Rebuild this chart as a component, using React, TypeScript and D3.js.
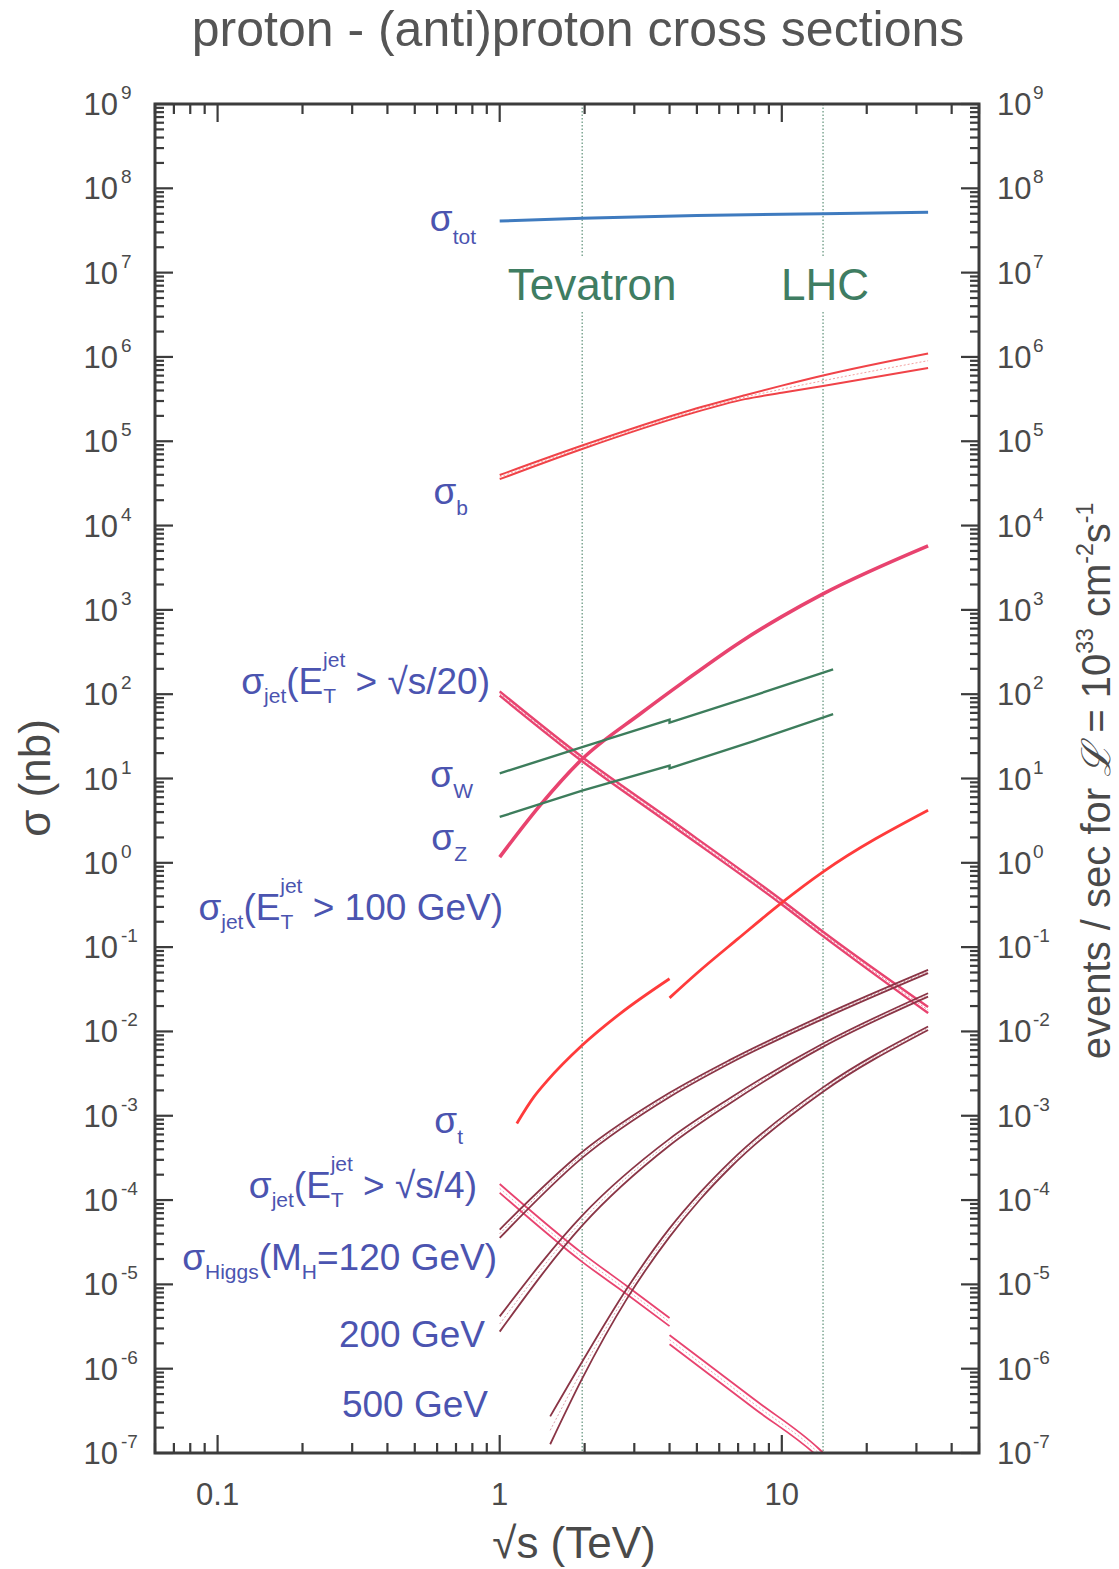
import React from 'react';
import * as d3 from 'd3';

const W = 1119;
const H = 1569;
const left = 155, right = 979, top = 104, bottom = 1453;

const font = '"Liberation Sans", Arial, Helvetica, sans-serif';

// axes
const xDomain = [0.06, 50];
const yDomain = [1e-7, 1e9];
const xTickValues = [0.1, 1, 10];
const xTickLabels = ['0.1', '1', '10'];
const yExponents = d3.range(-7, 10);

// colliders (vertical dotted lines)
const colliderNames = ['Tevatron', 'LHC'];
const colliderEnergy = [1.96, 14];

// sigma_tot
const totX = [1, 1.96, 5, 14, 33];
const totY = [4.1e7, 4.4e7, 4.75e7, 5.0e7, 5.2e7];

// sigma_b (band)
const bX = [1, 1.96, 4.55, 7.4, 10, 14, 33];
const bHi = [3.98e4, 8.9e4, 2.24e5, 3.51e5, 4.57e5, 6.03e5, 1.1e6];
const bLo = [3.55e4, 8.1e4, 2.04e5, 3.16e5, 3.76e5, 4.52e5, 7.41e5];

// sigma_jet(ET > sqrt(s)/20)
const jet20X = [1, 1.96, 4, 10, 14, 33];
const jet20Hi = [108, 18, 3.3, 0.36, 0.152, 0.0195];
const jet20Lo = [96, 16, 2.9, 0.32, 0.135, 0.0165];

// sigma_jet(ET > 100 GeV)
const jet100X = [1, 1.39, 1.96, 3.16, 4.5, 7.14, 10, 14, 33];
const jet100Y = [1.17, 4.8, 17, 59, 141, 417, 832, 1550, 5750];

// sigma_W, sigma_Z (ppbar up to 4 TeV, pp above)
const wzX = [1, 1.96, 4, 4, 8, 15.2];
const wY = [11.5, 23.5, 50, 46, 97, 197];
const zY = [3.5, 7.2, 14.2, 13.2, 28, 58];

// sigma_t
const topPbarX = [1.15, 1.32, 1.47, 1.96, 2.68, 4.0];
const topPbarY = [8.1e-4, 1.66e-3, 2.57e-3, 6.84e-3, 0.0164, 0.0422];
const topPpX = [4.0, 5, 7, 9.93, 14, 33];
const topPpY = [0.025, 0.049, 0.126, 0.33, 0.78, 4.2];

// sigma_jet(ET > sqrt(s)/4)
const jet4PbarX = [1, 1.96, 2.83, 4.0];
const jet4PbarHi = [1.55e-4, 2.35e-5, 9.5e-6, 4.0e-6];
const jet4PbarLo = [1.22e-4, 1.85e-5, 7.6e-6, 3.2e-6];
const jet4PpX = [4.0, 8, 13.5, 15];
const jet4PpHi = [2.5e-6, 4.3e-7, 1.13e-7, 8.0e-8];
const jet4PpLo = [1.95e-6, 3.35e-7, 0.89e-7, 6.3e-8];

// sigma_Higgs
const h120X = [1, 1.96, 4, 6.5, 14, 33];
const h120Hi = [4.47e-5, 3.71e-4, 1.87e-3, 4.54e-3, 0.0155, 0.0538];
const h120Lo = [3.55e-5, 3.16e-4, 1.67e-3, 4.14e-3, 0.0141, 0.0491];
const h200X = [1, 1.96, 4, 6.5, 14, 33];
const h200Hi = [4.17e-6, 6.55e-5, 5.32e-4, 1.59e-3, 7.19e-3, 0.0284];
const h200Lo = [2.75e-6, 4.97e-5, 4.43e-4, 1.38e-3, 6.56e-3, 0.0259];
const h500X = [1.51, 1.96, 2.83, 4, 5.15, 6.58, 14, 33];
const h500Hi = [2.72e-7, 1.21e-6, 8.99e-6, 4.61e-5, 1.24e-4, 2.88e-4, 2.17e-3, 0.01143];
const h500Lo = [1.27e-7, 7.62e-7, 6.82e-6, 3.66e-5, 1.03e-4, 2.45e-4, 1.93e-3, 0.01042];

const x = d3.scaleLog().domain(xDomain).range([left, right]);
const y = d3.scaleLog().domain(yDomain).range([bottom, top]);

type P = [number, number];
const pts = (xs: number[], ys: number[]): P[] => xs.map((v, i) => [v, ys[i]] as P);
const smooth = d3.line<P>().x(d => x(d[0])).y(d => y(d[1])).curve(d3.curveMonotoneX);
const straight = d3.line<P>().x(d => x(d[0])).y(d => y(d[1]));

function Band(props: { xs: number[]; lo: number[]; hi: number[]; color: string; mid: string; width?: number }) {
  const { xs, lo, hi, color, mid } = props;
  const w = props.width || 1.8;
  const c = xs.map((v, i) => Math.sqrt(lo[i] * hi[i]));
  return (
    <g fill="none">
      <path d={smooth(pts(xs, hi)) || ''} stroke={color} strokeWidth={w} />
      <path d={smooth(pts(xs, lo)) || ''} stroke={color} strokeWidth={w} />
      <path d={smooth(pts(xs, c)) || ''} stroke={mid} strokeWidth={1} strokeDasharray="2 2" />
    </g>
  );
}

const isMajor = (v: number) => Math.abs(Math.log10(v) - Math.round(Math.log10(v))) < 1e-6;

const yTicks = d3.range(-7, 9).flatMap(e => d3.range(1, 10).map(k => k * Math.pow(10, e))).concat([1e9]);
const xTicks = x.ticks();

export default function App() {
  const axisColor = '#3c3c3c';
  const textColor = '#4a4a4a';
  const lab = '#4b54b0';
  const sub = 21;

  return (
    <svg width={W} height={H} style={{ position: 'absolute', left: 0, top: 0, display: 'block', background: '#fff' }}
      fontFamily={font}>
      <defs>
        <clipPath id="plot">
          <rect x={left} y={top} width={right - left} height={bottom - top} />
        </clipPath>
      </defs>

      <text x={578} y={46} textAnchor="middle" fontSize={50} fill="#555">proton - (anti)proton cross sections</text>

      {/* collider lines */}
      {colliderEnergy.map((e, i) => (
        <g key={colliderNames[i]} stroke="#3d7a5c" strokeWidth={1} strokeDasharray="1.5 2">
          <line x1={x(e)} x2={x(e)} y1={top} y2={258} />
          <line x1={x(e)} x2={x(e)} y1={312} y2={bottom} />
        </g>
      ))}
      {colliderNames.map((n, i) => (
        <text key={n} x={x(colliderEnergy[i]) + (i === 0 ? 10 : 2)} y={300} textAnchor="middle" fontSize={44} fill="#3f7d62">{n}</text>
      ))}

      {/* curves */}
      <g clipPath="url(#plot)" fill="none" strokeLinecap="butt">
        <path d={smooth(pts(totX, totY)) || ''} stroke="#3f7bbf" strokeWidth={3} />
        <Band xs={bX} lo={bLo} hi={bHi} color="#f04348" mid="#f4a0a0" width={2} />
        <Band xs={jet20X} lo={jet20Lo} hi={jet20Hi} color="#e8436f" mid="#f07898" width={2.4} />
        <path d={smooth(pts(jet100X, jet100Y)) || ''} stroke="#e8436f" strokeWidth={3.6} />
        <path d={straight(pts(wzX, wY)) || ''} stroke="#3d7d5c" strokeWidth={2.4} />
        <path d={straight(pts(wzX, zY)) || ''} stroke="#3d7d5c" strokeWidth={2.4} />
        <path d={smooth(pts(topPbarX, topPbarY)) || ''} stroke="#ff3b3b" strokeWidth={2.8} />
        <path d={smooth(pts(topPpX, topPpY)) || ''} stroke="#ff3b3b" strokeWidth={2.8} />
        <Band xs={jet4PbarX} lo={jet4PbarLo} hi={jet4PbarHi} color="#e8436f" mid="#f3a0ba" width={1.8} />
        <Band xs={jet4PpX} lo={jet4PpLo} hi={jet4PpHi} color="#e8436f" mid="#f3a0ba" width={1.8} />
        <Band xs={h120X} lo={h120Lo} hi={h120Hi} color="#8a3546" mid="#c98a96" width={1.8} />
        <Band xs={h200X} lo={h200Lo} hi={h200Hi} color="#8a3546" mid="#d9a3ad" width={1.8} />
        <Band xs={h500X} lo={h500Lo} hi={h500Hi} color="#8a3546" mid="#d9a3ad" width={1.8} />
      </g>

      {/* frame */}
      <rect x={left} y={top} width={right - left} height={bottom - top} fill="none" stroke={axisColor} strokeWidth={3} />

      {/* ticks */}
      <g stroke={axisColor} strokeWidth={2.2}>
        {yTicks.map((v, i) => {
          const len = isMajor(v) ? 18 : 9;
          const py = y(v);
          return (
            <g key={'y' + i}>
              <line x1={left} x2={left + len} y1={py} y2={py} />
              <line x1={right} x2={right - len} y1={py} y2={py} />
            </g>
          );
        })}
        {xTicks.map((v, i) => {
          const len = isMajor(v) ? 18 : 10;
          const px = x(v);
          return (
            <g key={'x' + i}>
              <line x1={px} x2={px} y1={bottom} y2={bottom - len} />
              <line x1={px} x2={px} y1={top} y2={top + len} />
            </g>
          );
        })}
      </g>

      {/* tick labels */}
      <g fill={textColor}>
        {yExponents.map(e => (
          <g key={'yl' + e}>
            <text x={118} y={y(Math.pow(10, e)) + 11} textAnchor="end" fontSize={31}>10</text>
            <text x={121} y={y(Math.pow(10, e)) - 5} fontSize={19}>{e < 0 ? '-' + (-e) : String(e)}</text>
            <text x={997} y={y(Math.pow(10, e)) + 11} fontSize={31}>10</text>
            <text x={1033} y={y(Math.pow(10, e)) - 5} fontSize={19}>{e < 0 ? '-' + (-e) : String(e)}</text>
          </g>
        ))}
        {xTickValues.map((v, i) => (
          <text key={'xl' + i} x={x(v)} y={1505} textAnchor="middle" fontSize={31}>{xTickLabels[i]}</text>
        ))}
      </g>

      {/* axis titles */}
      <text x={574} y={1558} textAnchor="middle" fontSize={44} fill={textColor}>√s (TeV)</text>
      <text transform="translate(50,778) rotate(-90)" textAnchor="middle" fontSize={44} fill={textColor}>σ (nb)</text>
      <text transform="translate(1110,781) rotate(-90)" textAnchor="middle" fontSize={40} fill={textColor}>
        events / sec for <tspan fontStyle="italic">ℒ</tspan> = 10<tspan dy={-17} fontSize={23}>33</tspan>
        <tspan dy={17}> cm</tspan><tspan dy={-17} fontSize={23}>-2</tspan><tspan dy={17}>s</tspan>
        <tspan dy={-17} fontSize={23}>-1</tspan>
      </text>

      {/* curve labels */}
      <g fill={lab} fontSize={37}>
        <text x={476} y={231} textAnchor="end">σ<tspan dy={13} fontSize={sub}>tot</tspan></text>
        <text x={468} y={504} textAnchor="end">σ<tspan dy={11} fontSize={sub}>b</tspan></text>
        <text x={490} y={694} textAnchor="end">
          σ<tspan dy={9} fontSize={sub}>jet</tspan><tspan dy={-9}>(E</tspan><tspan dy={9} fontSize={sub}>T</tspan>
          <tspan dx={-13} dy={-36} fontSize={sub}>jet</tspan><tspan dy={27}> &gt; √s/20)</tspan>
        </text>
        <text x={473} y={787} textAnchor="end">σ<tspan dy={11} fontSize={sub}>W</tspan></text>
        <text x={467} y={850} textAnchor="end">σ<tspan dy={11} fontSize={sub}>Z</tspan></text>
        <text x={503} y={920} textAnchor="end">
          σ<tspan dy={9} fontSize={sub}>jet</tspan><tspan dy={-9}>(E</tspan><tspan dy={9} fontSize={sub}>T</tspan>
          <tspan dx={-13} dy={-36} fontSize={sub}>jet</tspan><tspan dy={27}> &gt; 100 GeV)</tspan>
        </text>
        <text x={463} y={1133} textAnchor="end">σ<tspan dy={11} fontSize={sub}>t</tspan></text>
        <text x={477} y={1198} textAnchor="end">
          σ<tspan dy={9} fontSize={sub}>jet</tspan><tspan dy={-9}>(E</tspan><tspan dy={9} fontSize={sub}>T</tspan>
          <tspan dx={-13} dy={-36} fontSize={sub}>jet</tspan><tspan dy={27}> &gt; √s/4)</tspan>
        </text>
        <text x={497} y={1270} textAnchor="end">
          σ<tspan dy={9} fontSize={sub}>Higgs</tspan><tspan dy={-9}>(M</tspan><tspan dy={9} fontSize={sub}>H</tspan>
          <tspan dy={-9}>=120 GeV)</tspan>
        </text>
        <text x={485} y={1347} textAnchor="end">200 GeV</text>
        <text x={488} y={1417} textAnchor="end">500 GeV</text>
      </g>
    </svg>
  );
}
